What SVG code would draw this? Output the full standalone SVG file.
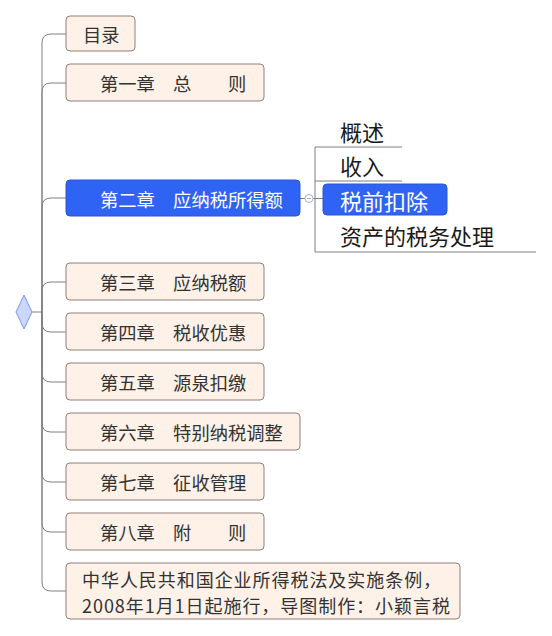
<svg xmlns="http://www.w3.org/2000/svg" width="552" height="636" viewBox="0 0 552 636">
<style>
.box{fill:#fdf1e8;stroke:#8f8079;stroke-width:1}
.sel{fill:#2f63f4;stroke:#2a56d6;stroke-width:1}
.t{font-family:"Noto Sans CJK SC","Liberation Sans",sans-serif;font-size:18.3px;fill:#333333;dominant-baseline:central}
.tw{fill:#ffffff}
.st{font-family:"Noto Sans CJK SC","Liberation Sans",sans-serif;font-size:22px;fill:#1a1a1a;dominant-baseline:central}
.c{fill:none;stroke:#808080;stroke-width:1}
</style>
<rect width="552" height="636" fill="#ffffff"/>
<g id="connectors">
<path class="c" d="M32,312 H42"/>
<path class="c" d="M42,312 V43 Q42,34 51,34 H66"/>
<path class="c" d="M42,312 V92 Q42,83 51,83 H66"/>
<path class="c" d="M42,312 V207 Q42,198 51,198 H66"/>
<path class="c" d="M42,312 V291 Q42,282 51,282 H66"/>
<path class="c" d="M42,312 V323 Q42,332 51,332 H66"/>
<path class="c" d="M42,312 V373 Q42,382 51,382 H66"/>
<path class="c" d="M42,312 V423 Q42,432 51,432 H66"/>
<path class="c" d="M42,312 V473 Q42,482 51,482 H66"/>
<path class="c" d="M42,312 V523 Q42,532 51,532 H66"/>
<path class="c" d="M42,312 V582 Q42,591 51,591 H66"/>
<path class="c" d="M300,198.5 H305"/>
<path class="c" d="M313,198.5 H323"/>
<path class="c" d="M315,147 V252"/>
<path class="c" d="M315,147 H402"/>
<path class="c" d="M315,181 H402"/>
<path class="c" d="M315,252 H536"/>
<circle cx="309" cy="198.5" r="4" fill="#ffffff" stroke="#a8b0cc" stroke-width="1"/>
<path d="M307,198.5 H311" stroke="#a8b0cc" stroke-width="1"/>
</g>
<g id="root">
<polygon points="24,295 32,312 24,329 16,312" fill="#c9d8fc" stroke="#7b98e6" stroke-width="1"/>
</g>
<g id="n0"><rect class="box" x="66" y="16" width="69" height="35" rx="4"/><text class="t" x="83" y="34">目录</text></g>
<g id="n1"><rect class="box" x="66" y="64" width="198" height="37" rx="4"/><text class="t" x="100" y="83">第一章　总　　则</text></g>
<g id="n2"><rect class="sel" x="66" y="180" width="234" height="36" rx="4"/><text class="t tw" x="100" y="198.5">第二章　应纳税所得额</text></g>
<g id="n3"><rect class="box" x="66" y="263" width="198" height="37" rx="4"/><text class="t" x="100" y="282">第三章　应纳税额</text></g>
<g id="n4"><rect class="box" x="66" y="313" width="198" height="37" rx="4"/><text class="t" x="100" y="332">第四章　税收优惠</text></g>
<g id="n5"><rect class="box" x="66" y="363" width="198" height="37" rx="4"/><text class="t" x="100" y="382">第五章　源泉扣缴</text></g>
<g id="n6"><rect class="box" x="66" y="413" width="234" height="37" rx="4"/><text class="t" x="100" y="432">第六章　特别纳税调整</text></g>
<g id="n7"><rect class="box" x="66" y="463" width="198" height="37" rx="4"/><text class="t" x="100" y="482">第七章　征收管理</text></g>
<g id="n8"><rect class="box" x="66" y="513" width="198" height="37" rx="4"/><text class="t" x="100" y="532">第八章　附　　则</text></g>
<g id="n9"><rect class="box" x="66" y="563" width="394" height="56" rx="4"/>
<text class="t" style="font-size:18px;letter-spacing:0.95px"><tspan x="82" y="578.5">中华人民共和国企业所得税法及实施条例，</tspan><tspan x="82" y="604.5">2008年1月1日起施行，导图制作：小颖言税</tspan></text></g>
<g id="s1"><text class="st" x="340" y="131">概述</text></g>
<g id="s2"><text class="st" x="340" y="165">收入</text></g>
<g id="s3"><rect class="sel" x="323" y="184" width="124" height="31" rx="4"/><text class="st" x="340" y="200" style="fill:#ffffff">税前扣除</text></g>
<g id="s4"><text class="st" x="340" y="235">资产的税务处理</text></g>
</svg>
